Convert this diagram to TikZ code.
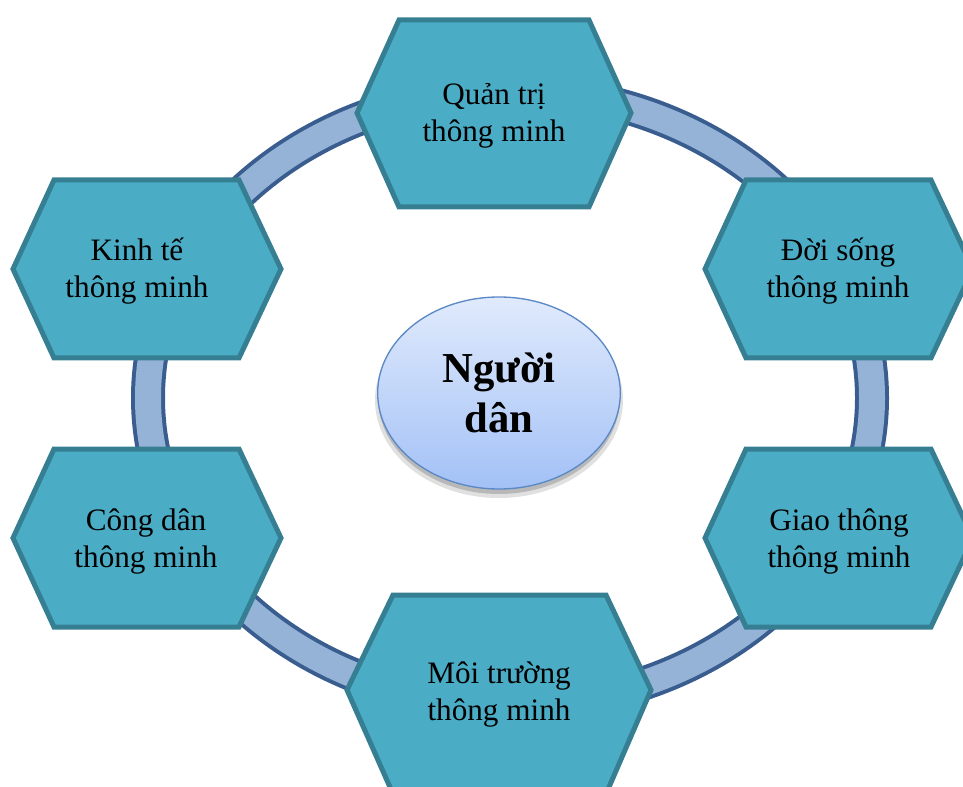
\documentclass[tikz,border=0pt]{standalone}
\usepackage{fontspec}
\setmainfont{Liberation Serif}
\usetikzlibrary{shapes.geometric}
\definecolor{hexfill}{HTML}{4BACC6}
\definecolor{hexdraw}{HTML}{367F92}
\definecolor{ringfill}{HTML}{95B3D7}
\definecolor{ringdraw}{HTML}{3A5D8F}
\definecolor{dantop}{HTML}{E0EAFC}
\definecolor{danbot}{HTML}{A3C1F6}
\definecolor{dandraw}{HTML}{5A89C6}

\begin{document}
\begin{tikzpicture}[x=0.75pt,y=0.75pt,yscale=-1,xscale=1,
  hexa/.style={draw=hexdraw, fill=hexfill, line width=3.75pt, line join=miter},
  hextext/.style={anchor=base, inner sep=0pt, align=center, font=\fontsize{23.4}{27.75}\selectfont},
  danoval/.style={ellipse, draw=dandraw, line width=1pt, top color=dantop, bottom color=danbot,
    minimum width=182pt, minimum height=144pt, inner sep=0pt, align=center,
    font=\fontsize{32}{37.5}\selectfont\bfseries}]
\useasboundingbox (0,0) rectangle (963,787);
\clip (0,0) rectangle (963,787);

%Shape: Ring
\draw [ringdraw, line width=25.5pt] (510,398) ellipse (362 and 307);
\draw [ringfill, line width=19.5pt] (510,398) ellipse (362 and 307);

%Shape: Hexagon top
\draw [hexa] (357,113) -- (399,20) -- (589,20) -- (631,113) -- (589,207) -- (399,207) -- cycle ;
%Shape: Hexagon upper left
\draw [hexa] (13,269) -- (54,180) -- (239,180) -- (281,269) -- (239,358) -- (54,358) -- cycle ;
%Shape: Hexagon lower left
\draw [hexa] (13,538) -- (54,449) -- (239,449) -- (281,538) -- (239,627) -- (54,627) -- cycle ;
%Shape: Hexagon upper right
\draw [hexa] (705,269) -- (746,180) -- (931,180) -- (973,269) -- (931,358) -- (746,358) -- cycle ;
%Shape: Hexagon lower right
\draw [hexa] (705,538) -- (746,449) -- (931,449) -- (973,538) -- (931,627) -- (746,627) -- cycle ;
%Shape: Hexagon bottom
\draw [hexa] (347,690) -- (393,595) -- (606,595) -- (651,690) -- (606,794) -- (393,794) -- cycle ;

% Text Node
\node [hextext] (quantri) at (494,142) {Quản trị\\thông minh};
% Text Node
\node [hextext] (kinhte) at (137,298) {Kinh tế\\thông minh};
% Text Node
\node [hextext] (congdan) at (146,567) {Công dân\\thông minh};
% Text Node
\node [hextext] (doisong) at (838,298) {Đời sống\\thông minh};
% Text Node
\node [hextext] (giaothong) at (839,567) {Giao thông\\thông minh};
% Text Node
\node [hextext] (moitruong) at (499,720) {Môi trường\\thông minh};

%Shape: Shadow of the oval
\fill [black, opacity=0.12] (499,400) ellipse (124 and 98);
\fill [black, opacity=0.18] (499,398) ellipse (121 and 96);
% Oval Node
\node [danoval] (nguoidan) at (499,393) {Người\\dân};

\end{tikzpicture}
\end{document}
